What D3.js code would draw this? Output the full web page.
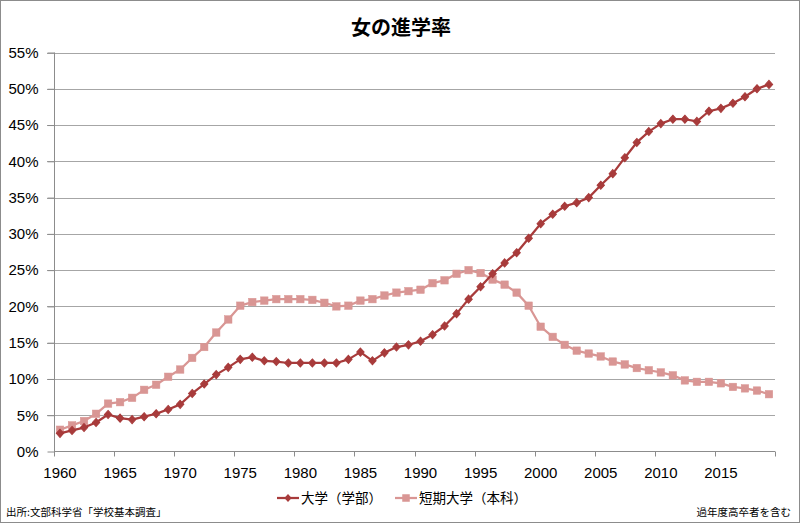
<!DOCTYPE html>
<html>
<head>
<meta charset="utf-8">
<script src="https://cdn.jsdelivr.net/npm/d3@7"></script>
<style>
  html, body { margin: 0; padding: 0; background: #fff; }
  svg { display: block; }
</style>
</head>
<body>
<svg id="chart" width="800" height="523"></svg>
<script>
const title = "女の進学率";
const years = d3.range(1960, 2020);
const seriesNames = ["大学（学部）", "短期大学（本科）"];
const university = [
  2.5, 2.9, 3.3, 4.0, 5.1, 4.6, 4.4, 4.8, 5.2, 5.8,
  6.5, 8.0, 9.3, 10.6, 11.6, 12.7, 13.0, 12.5, 12.4, 12.2,
  12.2, 12.2, 12.2, 12.2, 12.7, 13.7, 12.5, 13.6, 14.4, 14.7,
  15.2, 16.1, 17.3, 19.0, 21.0, 22.7, 24.5, 26.0, 27.4, 29.4,
  31.4, 32.7, 33.8, 34.3, 35.0, 36.7, 38.3, 40.5, 42.6, 44.1,
  45.2, 45.8, 45.8, 45.5, 46.9, 47.3, 48.0, 48.9, 50.0, 50.6
];
const juniorCollege = [
  3.0, 3.6, 4.2, 5.2, 6.6, 6.8, 7.4, 8.5, 9.2, 10.3,
  11.3, 12.9, 14.4, 16.4, 18.2, 20.1, 20.6, 20.8, 21.0, 21.0,
  21.0, 20.9, 20.5, 20.0, 20.1, 20.8, 21.0, 21.5, 21.9, 22.1,
  22.3, 23.2, 23.6, 24.5, 25.0, 24.6, 23.7, 23.0, 21.9, 20.1,
  17.2, 15.8, 14.7, 13.9, 13.5, 13.1, 12.4, 12.0, 11.5, 11.2,
  10.9, 10.5, 9.8, 9.6, 9.6, 9.4, 8.9, 8.7, 8.4, 7.9
];
const yTicks = [0, 5, 10, 15, 20, 25, 30, 35, 40, 45, 50, 55];
const xLabelYears = [1960, 1965, 1970, 1975, 1980, 1985, 1990, 1995, 2000, 2005, 2010, 2015];
const sourceNote = "出所:文部科学省「学校基本調査」";
const rightNote = "過年度高卒者を含む";

const colors = ["#A83B3B", "#D99694"];
const numFont = "'Liberation Sans', Arial, sans-serif";
const jpFont = "'Noto Sans CJK JP', sans-serif";

const svg = d3.select("#chart");
const W = 800, H = 523;
const plot = { left: 54, right: 775, top: 52.5, bottom: 451.5 };

// frame
svg.append("rect").attr("x", 0.5).attr("y", 0.5).attr("width", W - 1).attr("height", H - 1)
  .attr("fill", "#fff").attr("stroke", "#8c8c8c").attr("stroke-width", 1);

const x = d3.scaleBand().domain(years).range([plot.left, plot.right]).paddingInner(0).paddingOuter(0);
const y = d3.scaleLinear().domain([0, 55]).range([plot.bottom, plot.top]);
const cx = d => x(d) + x.bandwidth() / 2;

// title
svg.append("text").attr("x", 401).attr("y", 35).attr("text-anchor", "middle")
  .attr("font-family", jpFont).attr("font-weight", "bold").attr("font-size", 20)
  .attr("fill", "#000").text(title);

// gridlines
const grid = svg.append("g");
grid.selectAll("line").data(yTicks.filter(t => t > 0)).join("line")
  .attr("x1", plot.left - 7).attr("x2", plot.right)
  .attr("y1", d => Math.round(y(d)) + 0.5).attr("y2", d => Math.round(y(d)) + 0.5)
  .attr("stroke", "#a6a6a6").attr("stroke-width", 1);

// y axis
const yAxis = d3.axisLeft(y).tickValues(yTicks).tickFormat(d => d + "%").tickSize(7).tickPadding(9);
const gy = svg.append("g").attr("transform", `translate(${plot.left + 0.5},0)`).call(yAxis);
gy.select(".domain").attr("stroke", "#8c8c8c").attr("d", `M0,${plot.top}V${plot.bottom}`);
gy.selectAll(".tick line").attr("stroke", "#8c8c8c");
gy.selectAll(".tick text").attr("font-family", numFont).attr("font-size", 15).attr("fill", "#000");

// x axis (ticks between categories every 5 years)
const boundaries = d3.range(0, years.length + 1, 5).map(i => plot.left + i * x.bandwidth());
const gx = svg.append("g").attr("transform", `translate(0,${plot.bottom})`);
gx.append("line").attr("x1", plot.left).attr("x2", plot.right).attr("y1", 0).attr("y2", 0)
  .attr("stroke", "#8c8c8c");
gx.selectAll("line.tk").data(boundaries).join("line").attr("class", "tk")
  .attr("x1", d => Math.round(d) + 0.5).attr("x2", d => Math.round(d) + 0.5)
  .attr("y1", 0).attr("y2", 5).attr("stroke", "#8c8c8c");
gx.selectAll("text").data(xLabelYears).join("text")
  .attr("x", d => cx(d)).attr("y", 26).attr("text-anchor", "middle")
  .attr("font-family", numFont).attr("font-size", 15).attr("fill", "#000")
  .text(d => d);

// lines
const line = d3.line().x((d, i) => cx(years[i])).y(d => y(d));
const data = [university, juniorCollege];

[1, 0].forEach(k => {
  svg.append("path").datum(data[k]).attr("d", line).attr("fill", "none")
    .attr("stroke", colors[k]).attr("stroke-width", 2.25).attr("stroke-linejoin", "round");
  const g = svg.append("g");
  if (k === 0) {
    g.selectAll("path").data(data[k]).join("path")
      .attr("d", d3.symbol(d3.symbolDiamond2, 34)())
      .attr("transform", (d, i) => `translate(${cx(years[i])},${y(d)}) scale(1,1.1)`)
      .attr("fill", colors[k]).attr("stroke", colors[k]).attr("stroke-width", 1);
  } else {
    g.selectAll("rect").data(data[k]).join("rect")
      .attr("x", (d, i) => cx(years[i]) - 3.75).attr("y", d => y(d) - 3.75)
      .attr("width", 7.5).attr("height", 7.5)
      .attr("fill", colors[k]).attr("stroke", colors[k]).attr("stroke-width", 0.5);
  }
});

// legend
const legend = svg.append("g");
const legendItems = [
  { x0: 277, tx: 301, k: 0 },
  { x0: 395, tx: 419, k: 1 }
];
legendItems.forEach(it => {
  const ly = 498;
  legend.append("line").attr("x1", it.x0).attr("x2", it.x0 + 22).attr("y1", ly).attr("y2", ly)
    .attr("stroke", colors[it.k]).attr("stroke-width", 2.25);
  if (it.k === 0) {
    legend.append("path").attr("d", d3.symbol(d3.symbolDiamond2, 34)())
      .attr("transform", `translate(${it.x0 + 11},${ly}) scale(1,1.1)`).attr("fill", colors[0]);
  } else {
    legend.append("rect").attr("x", it.x0 + 11 - 3.75).attr("y", ly - 3.75)
      .attr("width", 7.5).attr("height", 7.5).attr("fill", colors[1]);
  }
  legend.append("text").attr("x", it.tx).attr("y", ly + 5).attr("font-family", jpFont)
    .attr("font-size", 13.5).attr("fill", "#000").text(seriesNames[it.k]);
});

// notes
svg.append("text").attr("x", 6).attr("y", 516).attr("font-family", jpFont)
  .attr("font-size", 10.5).attr("fill", "#000").text(sourceNote);
svg.append("text").attr("x", 791).attr("y", 516).attr("text-anchor", "end").attr("font-family", jpFont)
  .attr("font-size", 10.5).attr("fill", "#000").text(rightNote);
</script>
</body>
</html>
